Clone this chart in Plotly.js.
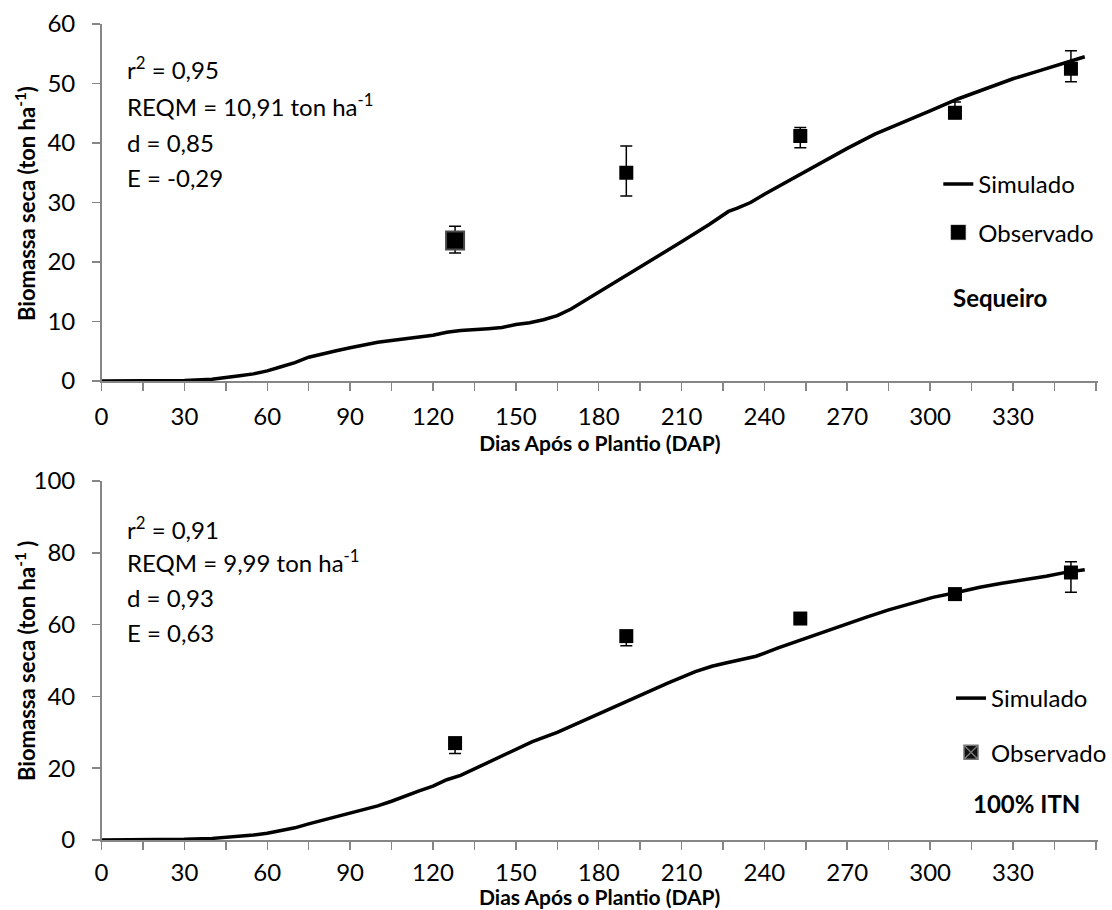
<!DOCTYPE html>
<html>
<head>
<meta charset="utf-8">
<script src="https://cdn.plot.ly/plotly-3.0.1.min.js"></script>
<style>html,body{margin:0;padding:0;background:#fff;}#chart{width:1112px;height:910px;}</style>
</head>
<body>
<div id="chart"></div>
<script>
// ---- Data ----
const xTickVals = [0,30,60,90,120,150,180,210,240,270,300,330];
const xTickText = ['0','30','60','90','120','150','180','210','240','270','300','330'];

// Sequeiro – simulated
const seqSimDays = [0,10,20,30,40,45,50,55,60,65,70,75,80,85,90,95,100,110,120,125,130,140,145,150,155,160,165,170,175,180,185,190,200,210,220,227,230,235,240,250,260,270,280,290,300,310,320,330,340,350,356];
const seqSimVals = [0,0,0.02,0.08,0.3,0.55,0.9,1.2,1.7,2.4,3.1,4.0,4.6,5.1,5.6,6.0,6.5,7.1,7.7,8.2,8.5,8.8,9.0,9.5,9.8,10.3,11.0,12.1,13.5,15.0,16.4,17.8,20.6,23.4,26.3,28.5,29.0,30.0,31.4,34.0,36.6,39.1,41.5,43.4,45.4,47.4,49.1,50.8,52.2,53.7,54.5];
// Sequeiro – observed
const seqObsDays = [128,190,253,309,351];
const seqObsVals = [23.6,35.0,41.2,45.1,52.5];
const seqObsErrPlus = [2.4,4.5,1.4,1.8,3.0];
const seqObsErrMinus = [2.1,3.9,2.0,1.0,2.2];

// 100% ITN – simulated
const itnSimDays = [0,10,20,30,40,45,50,55,60,65,70,75,80,85,90,95,100,105,110,115,120,125,130,135,140,145,150,156,165,172,180,188,195,205,215,221,226,230,237,245,253,260,269,277,285,293,301,310,318,326,334,342,350,356];
const itnSimVals = [0,0,0.05,0.2,0.45,0.75,1.1,1.4,1.9,2.6,3.4,4.5,5.5,6.3,7.4,8.3,9.5,10.8,12.3,13.7,15.0,16.8,18.0,19.8,21.7,23.5,25.3,27.4,30.0,32.4,35.3,37.8,40.2,43.7,46.9,48.4,49.3,50.0,51.2,53.5,55.7,57.6,59.9,62.1,64.1,65.9,67.6,69.0,70.4,71.5,72.4,73.5,74.7,75.3];
// 100% ITN – observed
const itnObsDays = [128,190,253,309,351];
const itnObsVals = [27.0,56.8,61.7,68.5,74.5];
const itnObsErrPlus = [1.5,1.5,1.0,1.2,3.0];
const itnObsErrMinus = [2.9,2.7,1.0,1.2,5.5];

// ---- Styles ----
const FONT = 'Lato, "Open Sans", sans-serif';
const AXIS_GRAY = '#868686';
const X_TITLE = '<b>Dias Após o Plantio (DAP)</b>';

function xaxisDef(anchor, withTitle, labelStandoff){
  const ax = {
    anchor: anchor, range:[0,360.8], domain:[0.0915,0.9892],
    tickmode:'array', tickvals:xTickVals, ticktext:xTickText,
    ticks:'outside', ticklen:8, tickwidth:1.5, tickcolor:AXIS_GRAY, ticklabelstandoff:labelStandoff,
    minor:{tick0:0, dtick:15, ticks:'outside', ticklen:8, tickwidth:1.5, tickcolor:AXIS_GRAY, showgrid:false},
    showline:true, linecolor:AXIS_GRAY, linewidth:1.5,
    showgrid:false, zeroline:false,
    tickfont:{family:FONT,size:24,color:'#000'}
  };
  if (withTitle) ax.title = {text:X_TITLE, font:{family:FONT,size:21,color:'#000'}, standoff:0};
  return ax;
}
function yaxisDef(anchor, range, dtick, domain){
  return {
    anchor: anchor, range:range, dtick:dtick, domain:domain,
    ticks:'outside', ticklen:8, tickwidth:1.5, tickcolor:AXIS_GRAY, ticklabelstandoff:12,
    showline:true, linecolor:AXIS_GRAY, linewidth:1.5,
    showgrid:false, zeroline:false,
    tickfont:{family:FONT,size:24,color:'#000'}
  };
}

const simLine = {color:'#000', width:3.5};

const traces = [
  {x:seqSimDays, y:seqSimVals, type:'scatter', mode:'lines', name:'Simulado', line:simLine,
   xaxis:'x', yaxis:'y', legend:'legend', legendgroup:'s1'},
  {x:seqObsDays, y:seqObsVals, type:'scatter', mode:'markers', name:'Observado',
   marker:{symbol:'square', size:[18,14,14,14,14], opacity:1, color:'#000', line:{color:'#4a4a4a', width:[2,0,0,0,0]}},
   error_y:{type:'data', symmetric:false, array:seqObsErrPlus, arrayminus:seqObsErrMinus, color:'#000', thickness:1.5, width:6},
   xaxis:'x', yaxis:'y', legend:'legend', legendgroup:'o1'},
  {x:itnSimDays, y:itnSimVals, type:'scatter', mode:'lines', name:'Simulado', line:simLine,
   xaxis:'x2', yaxis:'y2', legend:'legend2', legendgroup:'s2'},
  {x:itnObsDays, y:itnObsVals, type:'scatter', mode:'markers', name:'Observado', showlegend:false,
   marker:{symbol:'square', size:14, opacity:1, color:'#000'},
   error_y:{type:'data', symmetric:false, array:itnObsErrPlus, arrayminus:itnObsErrMinus, color:'#000', thickness:1.5, width:6},
   xaxis:'x2', yaxis:'y2', legend:'legend2', legendgroup:'o2'},
  {x:[null], y:[null], type:'scatter', mode:'markers', name:'Observado',
   marker:{symbol:'square-x', size:14, opacity:1, color:'#111', line:{color:'#777', width:1.5}},
   xaxis:'x2', yaxis:'y2', legend:'legend2', legendgroup:'o2'}
];

function statAnn(text, ypx){
  return {xref:'paper', yref:'paper', x:125/1112, y:1-ypx/910, xanchor:'left', yanchor:'middle',
          text:text, showarrow:false, font:{family:FONT,size:24,color:'#000'}};
}
function yTitleAnn(text, ypx){
  return {xref:'paper', yref:'paper', x:25/1112, y:1-ypx/910, xanchor:'center', yanchor:'middle',
          textangle:-90, text:text, showarrow:false, font:{family:FONT,size:22,color:'#000'}};
}

const annotations = [
  yTitleAnn('<b>Biomassa seca (ton ha<sup>-1</sup>)</b>', 203),
  yTitleAnn('<b>Biomassa seca (ton ha<sup>-1</sup> )</b>', 661),
  {xref:'paper', yref:'paper', x:601/1112, y:0, xanchor:'center', yanchor:'bottom', borderpad:0,
   text:X_TITLE, showarrow:false, font:{family:FONT,size:21,color:'#000'}},
  statAnn('r<sup>2</sup> = 0,95', 68),
  statAnn('REQM = 10,91 ton ha<sup>-1</sup>', 105),
  statAnn('d = 0,85', 142),
  statAnn('E = -0,29', 178),
  {xref:'paper', yref:'paper', x:1002/1112, y:1-298/910, xanchor:'center', yanchor:'middle',
   text:'<b>Sequeiro</b>', showarrow:false, font:{family:FONT,size:24,color:'#000'}},
  statAnn('r<sup>2</sup> = 0,91', 528),
  statAnn('REQM = 9,99 ton ha<sup>-1</sup>', 561),
  statAnn('d = 0,93', 597),
  statAnn('E = 0,63', 632),
  {xref:'paper', yref:'paper', x:1028/1112, y:1-803/910, xanchor:'center', yanchor:'middle',
   text:'<b>100% ITN</b>', showarrow:false, font:{family:FONT,size:24,color:'#000'}}
];

const layout = {
  width:1112, height:910,
  margin:{l:0,r:0,t:0,b:0},
  paper_bgcolor:'#fff', plot_bgcolor:'#fff',
  font:{family:FONT,size:24,color:'#000'},
  xaxis: xaxisDef('y', true, 6),
  yaxis: yaxisDef('x',[0,60],10,[0.5813,0.9736]),
  xaxis2: xaxisDef('y2', false, 3),
  yaxis2: yaxisDef('x2',[0,100],20,[0.0769,0.4714]),
  legend:{x:940/1112, y:1-162/910, xanchor:'left', yanchor:'top', bgcolor:'rgba(0,0,0,0)',
          font:{family:FONT,size:24,color:'#000'}, traceorder:'grouped', tracegroupgap:14},
  legend2:{x:953/1112, y:1-676/910, xanchor:'left', yanchor:'top', bgcolor:'rgba(0,0,0,0)',
          font:{family:FONT,size:24,color:'#000'}, traceorder:'grouped', tracegroupgap:20},
  annotations: annotations,
  showlegend:true
};

Plotly.newPlot('chart', traces, layout, {displayModeBar:false, staticPlot:true});
</script>
</body>
</html>
